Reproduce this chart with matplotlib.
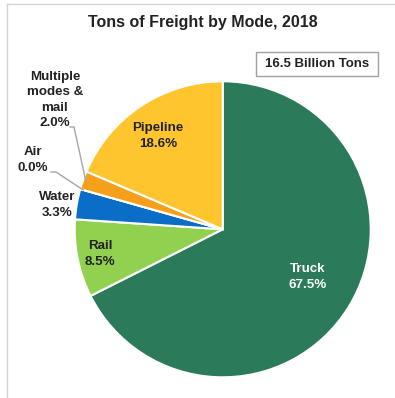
import matplotlib.pyplot as plt
from matplotlib.patches import Rectangle
import numpy as np

plt.rcParams['font.family'] = ['Liberation Sans', 'DejaVu Sans']

# share of tons by mode, clockwise from 12 o'clock
modes = ['Truck', 'Rail', 'Water', 'Air', 'Multiple\nmodes &\nmail', 'Pipeline']
shares = [67.5, 8.5, 3.3, 0.0, 2.0, 18.6]
colors = ['#2B7A5A', '#92D050', '#0A6EC8', '#A5A5A5', '#F5A01A', '#FFC52F']
total_label = '16.5 Billion Tons'

W, H = 395, 398
fig = plt.figure(figsize=(W / 100, H / 100), dpi=100)

# pixel -> figure fraction
def fx(px):
    return px / W

def fy(py):
    return 1 - py / H

cx, cy, r = 222.7, 229.3, 148
ax = fig.add_axes([fx(cx - r), fy(cy + r), 2 * r / W, 2 * r / H])

wedges, _ = ax.pie(shares, colors=colors, startangle=90, counterclock=False,
                   radius=1, wedgeprops=dict(edgecolor='white', linewidth=1.5))
ax.set_xlim(-1, 1)
ax.set_ylim(-1, 1)
ax.axis('off')

# pixel -> pie data coords
def dx(px):
    return (px - cx) / r

def dy(py):
    return (cy - py) / r

# label text positions (pixels) and colours
label_pos = {
    'Truck': (308, 277, 'white'),
    'Rail': (100, 254, '#222222'),
    'Water': (57, 205, '#222222'),
    'Air': (33, 160, '#222222'),
    'Multiple\nmodes &\nmail': (55, 100, '#222222'),
    'Pipeline': (158, 136, '#222222'),
}
for m, v in zip(modes, shares):
    px, py, c = label_pos[m]
    fig.text(fx(px), fy(py), f'{m}\n{v:.1f}%', ha='center', va='center',
             fontsize=9.6, fontweight='bold', color=c, linespacing=1.35)

# leader lines for the thin slices
leaders = {3: [(51, 172), (56, 172)], 4: [(70, 127), (74, 127)]}
for i, pts in leaders.items():
    w = wedges[i]
    ang = np.deg2rad((w.theta1 + w.theta2) / 2)
    xs = [dx(p[0]) for p in pts] + [0.98 * np.cos(ang)]
    ys = [dy(p[1]) for p in pts] + [0.98 * np.sin(ang)]
    ax.plot(xs, ys, color='#A6A6A6', lw=1, clip_on=False, zorder=5)

fig.text(fx(203), fy(23), 'Tons of Freight by Mode, 2018', ha='center',
         va='center', fontsize=11.5, fontweight='bold', color='#222222')

# total box
fig.patches.append(Rectangle((fx(256), fy(76)), fx(378) - fx(256), fy(52) - fy(76),
                             transform=fig.transFigure, facecolor='white',
                             edgecolor='#A0A0A0', lw=1))
fig.text(fx(317), fy(64), total_label, ha='center', va='center',
         fontsize=9.5, fontweight='bold', color='#222222')

# frame lines on top and left
fig.add_artist(plt.Line2D([fx(7), fx(7)], [fy(4), 0], transform=fig.transFigure,
                          color='#D4D4D4', lw=1))
fig.add_artist(plt.Line2D([fx(7), 1], [fy(4), fy(4)], transform=fig.transFigure,
                          color='#D4D4D4', lw=1))

fig.savefig('out.png', dpi=100)
